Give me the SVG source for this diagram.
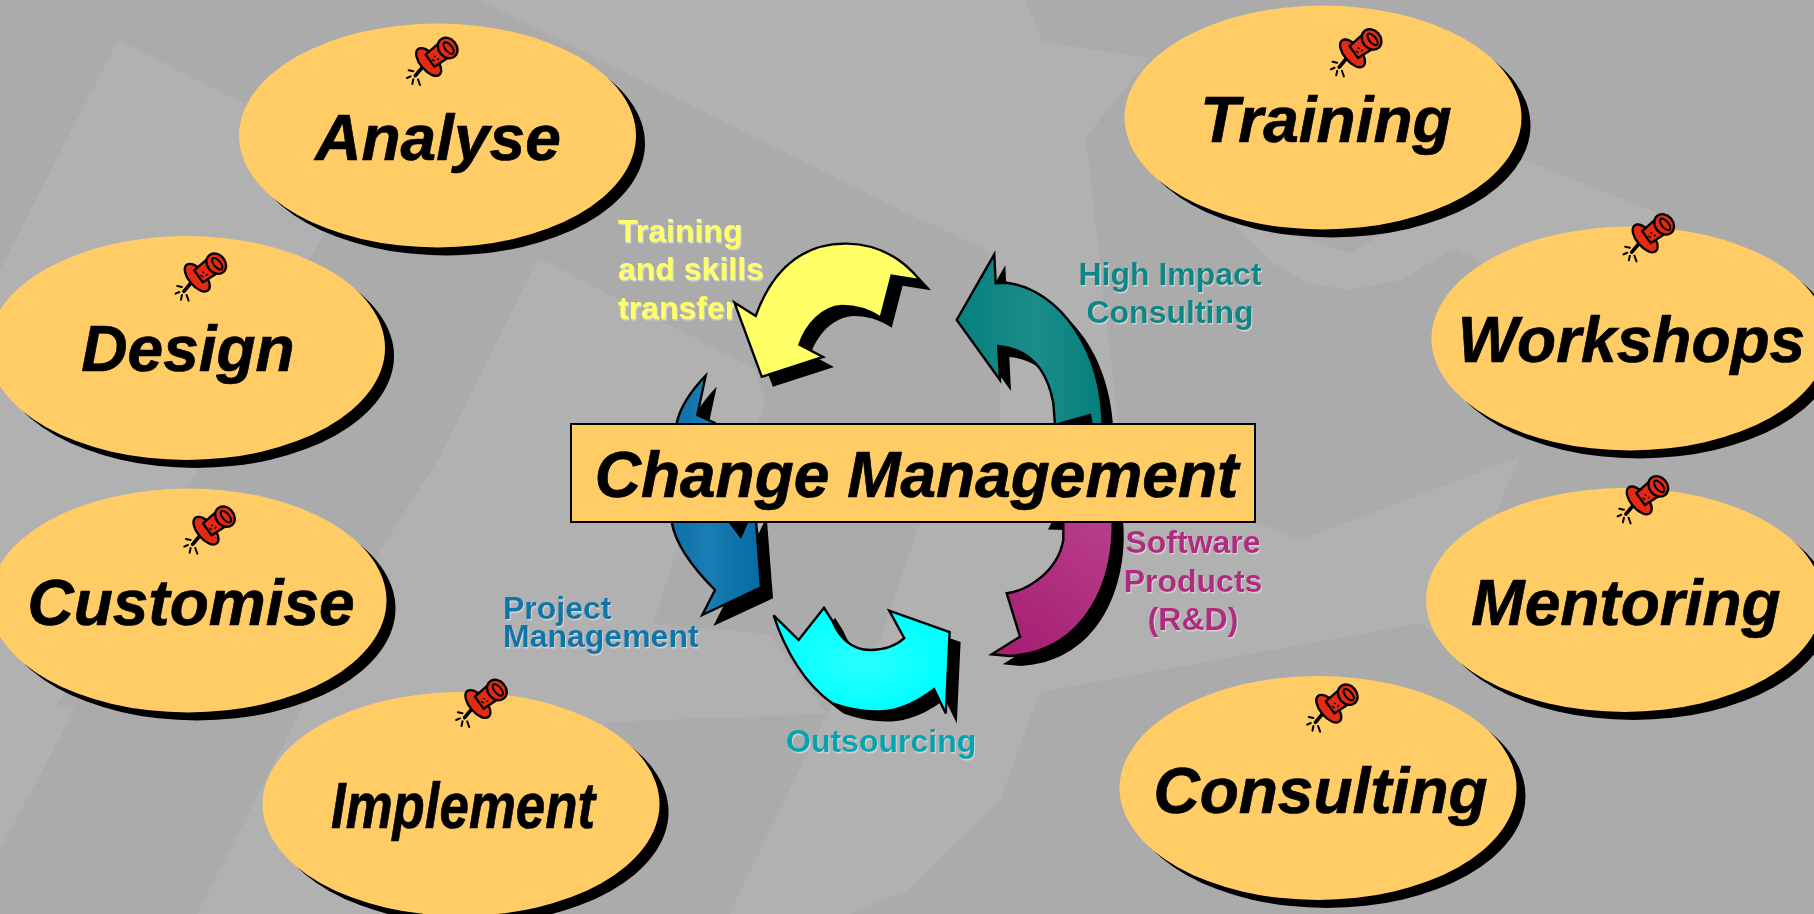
<svg xmlns="http://www.w3.org/2000/svg" width="1814" height="914" viewBox="0 0 1814 914">
<style>
.bg{fill:#b1b1b1}
.sh{fill:#000}
.el{fill:#ffcc66}
.big{font-family:"Liberation Sans",Arial,sans-serif;font-weight:bold;font-style:italic;font-size:64px;fill:#000;stroke:#000;stroke-width:.7;text-anchor:middle}
.lab{font-family:"Liberation Sans",Arial,sans-serif;font-weight:bold;font-size:32px;filter:url(#halo)}
.ar{stroke:#000;stroke-width:2.4;stroke-linejoin:miter}
.pr{fill:#e32a12;stroke:#000;stroke-width:7;stroke-linejoin:round}
.pk{fill:none;stroke:#000;stroke-width:6;stroke-linecap:round}
</style>
<defs>
<filter id="halo" x="-5%" y="-5%" width="110%" height="115%">
<feDropShadow dx="1" dy="1.5" stdDeviation="0.3" flood-color="#d2d2d2"/>
</filter>
<linearGradient id="gt" x1="0" x2="1" y1="0" y2="0"><stop offset="0" stop-color="#07807e"/><stop offset=".55" stop-color="#1b8d8a"/><stop offset="1" stop-color="#047e7a"/></linearGradient>
<linearGradient id="gb" x1="0" x2="1" y1="0" y2="0"><stop offset="0" stop-color="#0f6ea8"/><stop offset=".4" stop-color="#1a7db3"/><stop offset="1" stop-color="#066ba4"/></linearGradient>
<linearGradient id="gp" x1="0.8" x2="0.2" y1="0.1" y2="1"><stop offset="0" stop-color="#b63b88"/><stop offset="1" stop-color="#a61f72"/></linearGradient>
<radialGradient id="gc"><stop offset="0" stop-color="#2affff"/><stop offset="1" stop-color="#00ffff"/></radialGradient>
<g id="pin">
<path class="pk" d="M86 151l14 3M81 174l11-5M97 192l3-14M120 195l-6-17"/>
<path d="M106 167L132 136" stroke="#000" stroke-width="11" stroke-linecap="round"/>
<ellipse class="pr" cx="146" cy="126" rx="50" ry="25" transform="rotate(50 146 126)"/>
<path class="pr" d="M137 104L179 67L211 109L163 140Z"/>
<ellipse class="pr" cx="203" cy="84" rx="33" ry="27" transform="rotate(50 203 84)"/>
<ellipse cx="206" cy="84" rx="21" ry="10" transform="rotate(50 206 84)" fill="none" stroke="#000" stroke-width="6"/>
<path d="M156 118l8 6M172 120l5-5M162 108l5 4" stroke="#000" stroke-width="4" fill="none"/>
</g>
</defs>

<rect id="background" width="1814" height="914" fill="#ababab"/>
<g id="backdrop">
<polygon class="bg" points="480,0 1025,0 1043,42 1150,58 1086,137 1118,424 1000,424 1000,385 1012,340 987,250 907,213"/>
<polygon class="bg" points="118,40 243,103 324,233 197,470 60,700 0,800 0,270"/>
<polygon class="bg" points="538,258 752,367 766,400 757,424 700,480 653,624 769,634 827,714 607,722 295,722 376,557 440,457"/>
<polygon class="bg" points="920,522 1255,522 1300,540 1520,457 1440,640 1422,623 1040,692 1000,800 907,890 850,914 729,914 827,714 880,640"/>
<polygon class="bg" points="1226,217 1273,263 1308,283 1349,290 1401,280 1454,248 1483,263 1640,300 1658,213 1518,157 1450,200 1349,253 1308,240"/>
<polygon class="bg" points="0,850 75,709 0,690"/>
<polygon class="bg" points="197,914 295,722 607,722 500,914"/>
</g>

<g id="label-training" class="lab" fill="#ffff66">
<text x="618" y="242">Training</text>
<text x="618" y="280">and skills</text>
<text x="618" y="319">transfer</text>
</g>

<g id="connectors">
<g id="arrow-yellow">
<path class="sh" transform="translate(11 10)" d="M734.4 302.5L755.7 316C775 262 810 243 846.7 243.6C877 244 902 258 920 280.3L891.6 275.7L880.7 317.8C868 309 855 306 842 306C822 307 806 325 799.5 344.6L823 357L761.8 376.8Z"/>
<path class="ar" fill="#ffff66" d="M734.4 302.5L755.7 316C775 262 810 243 846.7 243.6C877 244 902 258 920 280.3L891.6 275.7L880.7 317.8C868 309 855 306 842 306C822 307 806 325 799.5 344.6L823 357L761.8 376.8Z"/>
</g>
<g id="arrow-teal">
<path class="sh" transform="translate(11 11)" d="M994.3 254.3L995.7 283.3L1006.7 282.7C1060 290 1103 350 1102.7 430L1055 430L1053.3 403C1050 385 1040 350 998.3 346L1000 380L956.7 320Z"/>
<path class="ar" fill="url(#gt)" d="M994.3 254.3L995.7 283.3L1006.7 282.7C1060 290 1103 350 1102.7 430L1092.7 430L1090 415L1055 425L1053.3 403C1050 385 1040 350 998.3 346L1000 380L956.7 320Z"/>
<polygon class="sh" points="1056,426 1090,415 1093,426"/>
</g>
<g id="arrow-blue">
<path class="sh" transform="translate(11 11)" d="M705.7 375.7C690 392 680 408 676.7 423L671.7 522C675 542 690 565 715 590L702.3 615L762 587.3L756 510L715 423L697.3 415Z"/>
<path class="ar" fill="url(#gb)" d="M705.7 375.7C690 392 680 408 676.7 423L671.7 522C675 542 690 565 715 590L702.3 615L761 587.3L756 520L748 520L740.7 536.7L728.3 520L715 423L697.3 415Z"/>
<polygon points="757,520 765,520 758.5,534" fill="#b2b2b2"/>
</g>
<g id="arrow-pink">
<path class="sh" transform="translate(11 10)" d="M1063.3 510L1112 510C1118 580 1085 652 1010 656L991.7 654.3L1020 636.7L1006.7 593.3C1030 590 1058 570 1063.3 540Z"/>
<polygon class="sh" points="1048,529.5 1053,520 1064,520 1063.5,530"/>
<path class="ar" fill="url(#gp)" d="M1063.3 510L1112 510C1118 580 1085 652 1010 656L991.7 654.3L1020 636.7L1006.7 593.3C1030 590 1058 570 1063.3 540Z"/>
</g>
<g id="arrow-cyan">
<path class="sh" transform="translate(11 10)" d="M773.6 615.3L798.6 640L824 607.8L832.6 621.4C838 635 850 650 870.3 650C885 650 897 645 904.3 638.2L889.2 610.7L949.6 632L945.8 713.5L934 689.2C920 700 900 711 879.8 711.4C860 712 845 708 832.6 703.5C805 685 785 650 773.6 615.3Z"/>
<path class="ar" fill="url(#gc)" d="M773.6 615.3L798.6 640L824 607.8L832.6 621.4C838 635 850 650 870.3 650C885 650 897 645 904.3 638.2L889.2 610.7L949.6 632L945.8 713.5L934 689.2C920 700 900 711 879.8 711.4C860 712 845 708 832.6 703.5C805 685 785 650 773.6 615.3Z"/>
</g>
</g>

<g id="label-impact" class="lab" fill="#0a8686" text-anchor="middle">
<text x="1170" y="285">High Impact</text>
<text x="1170" y="323">Consulting</text>
</g>
<g id="label-software" class="lab" fill="#b02a80" text-anchor="middle">
<text x="1193" y="553">Software</text>
<text x="1193" y="592">Products</text>
<text x="1193" y="630">(R&amp;D)</text>
</g>
<g id="label-project" class="lab" fill="#0e76a8">
<text x="503" y="619">Project</text>
<text x="503" y="647">Management</text>
</g>
<g id="label-outsourcing" class="lab" fill="#05a5b0">
<text x="786" y="752">Outsourcing</text>
</g>

<g id="node-analyse">
<ellipse class="sh" cx="446.5" cy="143.5" rx="198.5" ry="112"/>
<ellipse class="el" cx="437.5" cy="135.5" rx="198.5" ry="112"/>
<use href="#pin" transform="translate(380 20) scale(.3333)"/>
<text class="big" x="438" y="160">Analyse</text>
</g>
<g id="node-design">
<ellipse class="sh" cx="195.5" cy="356" rx="198.5" ry="112"/>
<ellipse class="el" cx="186.5" cy="348" rx="198.5" ry="112"/>
<use href="#pin" transform="translate(148.6 235.7) scale(.3333)"/>
<text class="big" x="188" y="371">Design</text>
</g>
<g id="node-customise">
<ellipse class="sh" cx="197" cy="608.5" rx="198.5" ry="112"/>
<ellipse class="el" cx="188" cy="600.5" rx="198.5" ry="112"/>
<use href="#pin" transform="translate(157.3 488.7) scale(.3333)"/>
<text class="big" x="191" y="624.5">Customise</text>
</g>
<g id="node-implement">
<ellipse class="sh" cx="470" cy="812" rx="198.5" ry="112"/>
<ellipse class="el" cx="461" cy="804" rx="198.5" ry="112"/>
<use href="#pin" transform="translate(429.2 662) scale(.3333)"/>
<text class="big" x="463" y="828" textLength="264" lengthAdjust="spacingAndGlyphs">Implement</text>
</g>
<g id="node-training">
<ellipse class="sh" cx="1332" cy="125.5" rx="198.5" ry="112"/>
<ellipse class="el" cx="1323" cy="117.5" rx="198.5" ry="112"/>
<use href="#pin" transform="translate(1303.9 11.4) scale(.3333)"/>
<text class="big" x="1326" y="141.5">Training</text>
</g>
<g id="node-workshops">
<ellipse class="sh" cx="1639" cy="346.5" rx="198.5" ry="112"/>
<ellipse class="el" cx="1630" cy="338.5" rx="198.5" ry="112"/>
<use href="#pin" transform="translate(1596.5 196.4) scale(.3333)"/>
<text class="big" x="1631.5" y="361.5">Workshops</text>
</g>
<g id="node-mentoring">
<ellipse class="sh" cx="1633.5" cy="608" rx="198.5" ry="112"/>
<ellipse class="el" cx="1624.5" cy="600" rx="198.5" ry="112"/>
<use href="#pin" transform="translate(1590.6 458.4) scale(.3333)"/>
<text class="big" x="1626" y="624.5">Mentoring</text>
</g>
<g id="node-consulting">
<ellipse class="sh" cx="1327" cy="796" rx="198.5" ry="112"/>
<ellipse class="el" cx="1318" cy="788" rx="198.5" ry="112"/>
<use href="#pin" transform="translate(1280.1 666.7) scale(.3333)"/>
<text class="big" x="1320.5" y="812.5">Consulting</text>
</g>

<g id="node-change">
<rect x="571" y="424" width="684" height="98" fill="#ffcc66" stroke="#000" stroke-width="2"/>
<text class="big" x="916.5" y="496.5">Change Management</text>
</g>
</svg>
